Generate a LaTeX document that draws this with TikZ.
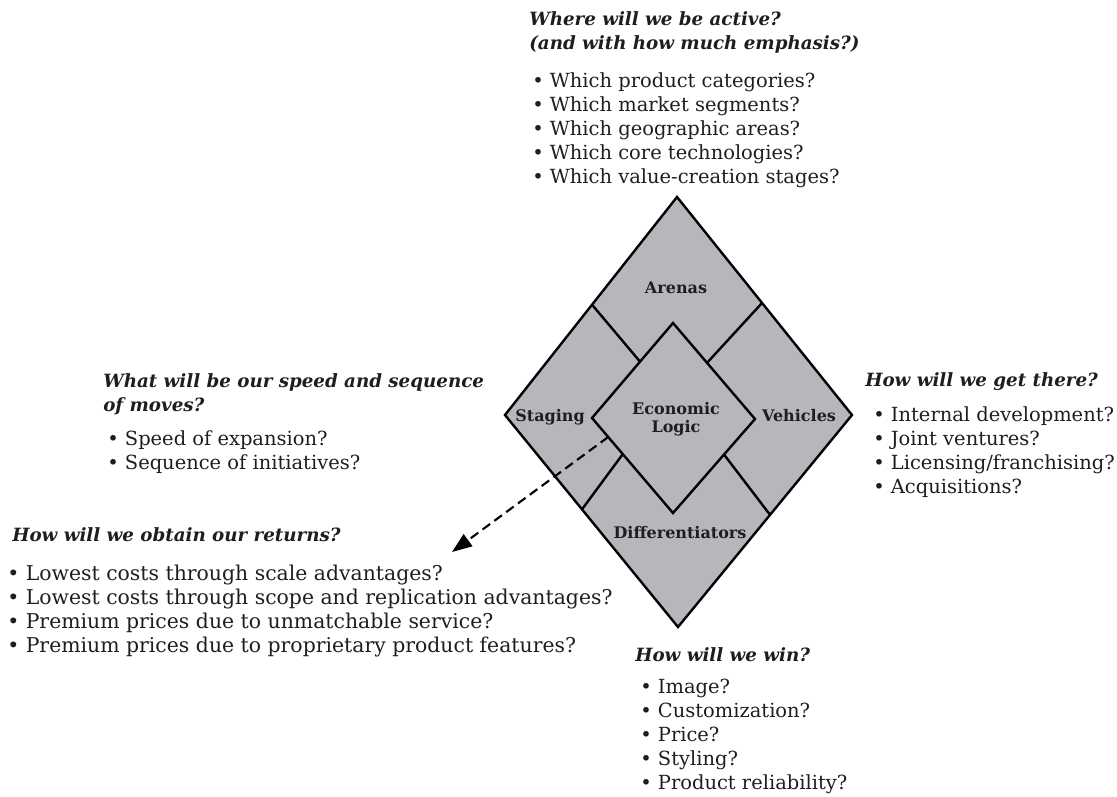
\documentclass[tikz,border=0pt]{standalone}
\usepackage{fontspec}
\setmainfont{DejaVu Serif}
\usetikzlibrary{arrows.meta,calc}
\definecolor{dfill}{RGB}{182,182,188}
\definecolor{ink}{RGB}{30,30,30}
\begin{document}
\begin{tikzpicture}[x=0.75pt,y=-0.75pt,
  head/.style={anchor=base west,inner sep=0,align=left,text=ink,
    font=\bfseries\itshape\fontsize{13.7}{18}\selectfont},
  item/.style={anchor=base west,inner sep=0,align=left,text=ink,
    font=\fontsize{14.6}{18}\selectfont},
  lab/.style={inner sep=0,text=ink,align=center,
    font=\bfseries\fontsize{12}{13.5}\selectfont},
  edge/.style={line width=1.8pt,line join=miter},
  divider/.style={line width=1.8pt}]
\useasboundingbox (0,0) rectangle (1117,796);
% outer diamond
\coordinate (oT) at (677,197);
\coordinate (oR) at (852,415);
\coordinate (oB) at (678,627);
\coordinate (oL) at (505,415);
% inner diamond
\coordinate (iT) at (673,323);
\coordinate (iR) at (755,419);
\coordinate (iB) at (673,513);
\coordinate (iL) at (592,418);
\filldraw[edge,fill=dfill] (oT) -- (oR) -- (oB) -- (oL) -- cycle;
\draw[edge] (iT) -- (iR) -- (iB) -- (iL) -- cycle;
% dividers
\draw[divider] ($(oT)!0.494!(oL)$) -- ($(iT)!0.407!(iL)$);
\draw[divider] ($(oT)!0.486!(oR)$) -- ($(iT)!0.415!(iR)$);
\draw[divider] ($(oL)!0.445!(oB)$) -- ($(iL)!0.38!(iB)$);
\draw[divider] ($(oR)!0.471!(oB)$) -- ($(iR)!0.378!(iB)$);
% labels
\node[lab] (arenas) at (676,288) {Arenas};
\node[lab] (staging) at (550,417) {Staging};
\node[lab] (vehicles) at (799,416) {Vehicles};
\node[lab] (logic) at (676,419) {Economic\\Logic};
\node[lab] (diff) at (680,533) {Differentiators};
% top block (anchor = baseline of last line)
\node[head] (toph) at (529,49) {Where will we be active?\\(and with how much emphasis?)};
\node[item] (topl) at (532,183) {\textbullet\ Which product categories?\\
\textbullet\ Which market segments?\\
\textbullet\ Which geographic areas?\\
\textbullet\ Which core technologies?\\
\textbullet\ Which value-creation stages?};
% staging block
\node[head] (stah) at (103,411) {What will be our speed and sequence\\of moves?};
\node[item] (stal) at (107,469) {\textbullet\ Speed of expansion?\\
\textbullet\ Sequence of initiatives?};
% vehicles block
\node[head] (vehh) at (865,386) {How will we get there?};
\node[item] (vehl) at (873,493) {\textbullet\ Internal development?\\
\textbullet\ Joint ventures?\\
\textbullet\ Licensing/franchising?\\
\textbullet\ Acquisitions?};
% returns block
\node[head] (reth) at (12,541) {How will we obtain our returns?};
\node[item,font=\fontsize{15.3}{18}\selectfont] (retl) at (7,652) {\textbullet\ Lowest costs through scale advantages?\\
\textbullet\ Lowest costs through scope and replication advantages?\\
\textbullet\ Premium prices due to unmatchable service?\\
\textbullet\ Premium prices due to proprietary product features?};
% win block
\node[head] (winh) at (635,661) {How will we win?};
\node[item] (winl) at (640,789) {\textbullet\ Image?\\
\textbullet\ Customization?\\
\textbullet\ Price?\\
\textbullet\ Styling?\\
\textbullet\ Product reliability?};
% dashed arrow
\coordinate (dstart) at ($(iL)!0.2!(iB)$);
\coordinate (dtip) at (452,552);
\draw[line width=1.6pt,dash pattern=on 7pt off 4pt,
  -{Triangle[length=15pt,width=11pt]}] (dstart) -- (dtip);
\end{tikzpicture}
\end{document}
